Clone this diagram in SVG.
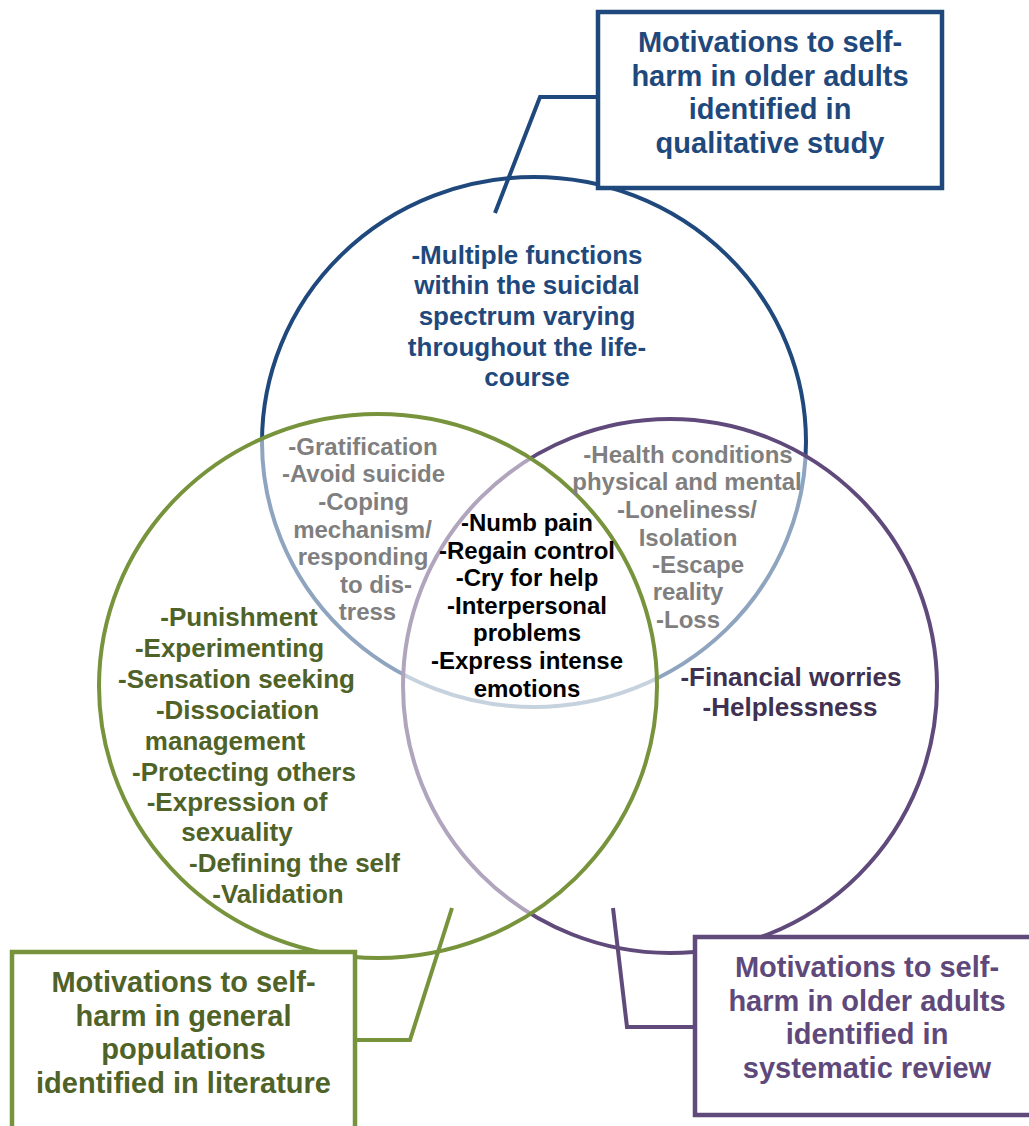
<svg xmlns="http://www.w3.org/2000/svg" width="1029" height="1126" viewBox="0 0 1029 1126">
<style>
text{font-family:"Liberation Sans",Arial,sans-serif;font-weight:bold;text-anchor:middle}
.t26{font-size:26px}
.t24{font-size:24px}
.t29{font-size:29px}
.blue{fill:#1f497d}
.green{fill:#4f6228}
.purple{fill:#5f497a}
.dpurple{fill:#403152}
.gray{fill:#7f7f7f}
.black{fill:#000}
.conn{fill:none;stroke-width:4;stroke-linejoin:miter}
.box{fill:#fff;stroke-width:4.5}
</style>
<rect width="1029" height="1126" fill="#fff"/>
<g id="circle-study">
<ellipse cx="534" cy="442" rx="272" ry="265" fill="none" stroke="#1f497d" stroke-width="4"/>
</g>
<g id="circle-review">
<ellipse cx="670" cy="686" rx="267" ry="267" fill="#fff" fill-opacity="0.5" stroke="#604a7b" stroke-width="4"/>
</g>
<g id="circle-literature">
<ellipse cx="378" cy="686" rx="279" ry="272" fill="#fff" fill-opacity="0.5" stroke="#77933c" stroke-width="4"/>
</g>
<g id="connectors">
<polyline class="conn" points="598,97 540,97 495,213" stroke="#1f497d"/>
<polyline class="conn" points="355,1040 410,1040 452,908" stroke="#77933c"/>
<polyline class="conn" points="695,1027 627,1027 613,908" stroke="#604a7b"/>
</g>
<g id="box-study">
<rect class="box" x="598" y="12" width="344" height="176" stroke="#1f497d"/>
<text class="t29 blue" x="770" y="52">Motivations to self-</text>
<text class="t29 blue" x="770" y="85.5">harm in older adults</text>
<text class="t29 blue" x="770" y="119">identified in</text>
<text class="t29 blue" x="770" y="152.5">qualitative study</text>
</g>
<g id="box-literature">
<rect class="box" x="12" y="952" width="343" height="200" stroke="#77933c"/>
<text class="t29 green" x="183.5" y="992">Motivations to self-</text>
<text class="t29 green" x="183.5" y="1026">harm in general</text>
<text class="t29 green" x="183.5" y="1059">populations</text>
<text class="t29 green" x="183.5" y="1093">identified in literature</text>
</g>
<g id="box-review">
<rect class="box" x="695" y="937" width="360" height="178" stroke="#604a7b"/>
<text class="t29 purple" x="867" y="977">Motivations to self-</text>
<text class="t29 purple" x="867" y="1010.5">harm in older adults</text>
<text class="t29 purple" x="867" y="1044">identified in</text>
<text class="t29 purple" x="867" y="1077.5">systematic review</text>
</g>
<g id="text-study-only">
<text class="t26 blue" x="527" y="264">-Multiple functions</text>
<text class="t26 blue" x="527" y="294">within the suicidal</text>
<text class="t26 blue" x="527" y="325">spectrum varying</text>
<text class="t26 blue" x="527" y="356">throughout the life-</text>
<text class="t26 blue" x="527" y="386">course</text>
</g>
<g id="text-study-literature">
<text class="t24 gray" x="363" y="455">-Gratification</text>
<text class="t24 gray" x="363.5" y="482">-Avoid suicide</text>
<text class="t24 gray" x="363.5" y="510">-Coping</text>
<text class="t24 gray" x="362.5" y="538">mechanism/</text>
<text class="t24 gray" x="363" y="565">responding</text>
<text class="t24 gray" x="376" y="593">to dis-</text>
<text class="t24 gray" x="367.5" y="620">tress</text>
</g>
<g id="text-study-review">
<text class="t24 gray" x="688" y="463">-Health conditions</text>
<text class="t24 gray" x="687" y="490">physical and mental</text>
<text class="t24 gray" x="687" y="518">-Loneliness/</text>
<text class="t24 gray" x="688" y="546">Isolation</text>
<text class="t24 gray" x="698" y="573">-Escape</text>
<text class="t24 gray" x="688" y="600">reality</text>
<text class="t24 gray" x="688" y="628">-Loss</text>
</g>
<g id="text-center">
<text class="t24 black" x="527" y="531">-Numb pain</text>
<text class="t24 black" x="527" y="558.6">-Regain control</text>
<text class="t24 black" x="527" y="586">-Cry for help</text>
<text class="t24 black" x="527" y="613.8">-Interpersonal</text>
<text class="t24 black" x="527" y="641.4">problems</text>
<text class="t24 black" x="527" y="669">-Express intense</text>
<text class="t24 black" x="527" y="696.6">emotions</text>
</g>
<g id="text-literature-only">
<text class="t26 green" x="239" y="626">-Punishment</text>
<text class="t26 green" x="229.5" y="657">-Experimenting</text>
<text class="t26 green" x="236.5" y="688">-Sensation seeking</text>
<text class="t26 green" x="237.5" y="719">-Dissociation</text>
<text class="t26 green" x="225" y="750">management</text>
<text class="t26 green" x="244" y="781">-Protecting others</text>
<text class="t26 green" x="237" y="811">-Expression of</text>
<text class="t26 green" x="237" y="841">sexuality</text>
<text class="t26 green" x="294.5" y="872">-Defining the self</text>
<text class="t26 green" x="278" y="903">-Validation</text>
</g>
<g id="text-review-only">
<text class="t26 dpurple" x="791" y="686">-Financial worries</text>
<text class="t26 dpurple" x="790" y="716">-Helplessness</text>
</g>
</svg>
